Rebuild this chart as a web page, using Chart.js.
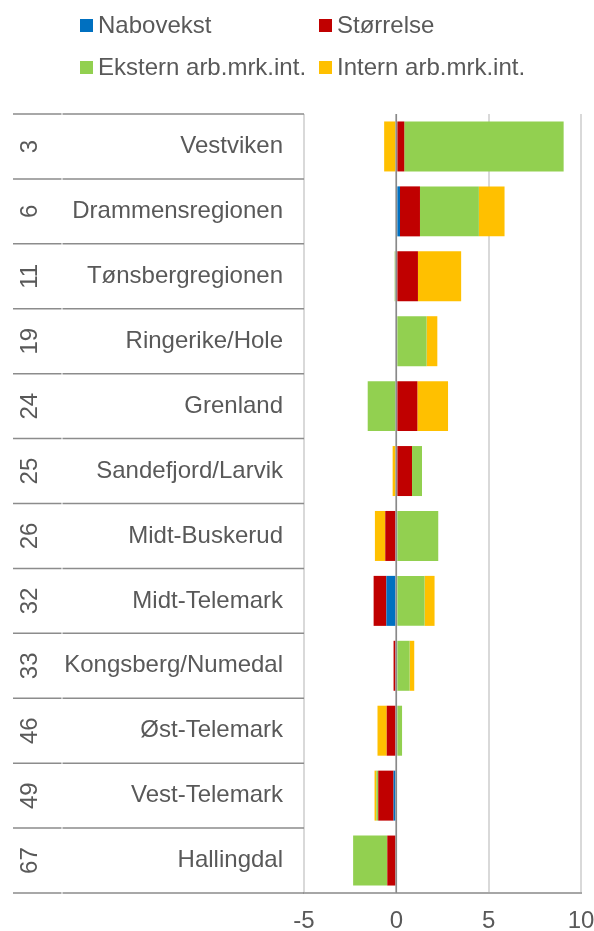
<!DOCTYPE html>
<html>
<head>
<meta charset="utf-8">
<title>Regioner</title>
<script src="https://cdn.jsdelivr.net/npm/chart.js@4/dist/chart.umd.min.js"></script>
<style>
    body { margin: 0; background: #ffffff; }
    #wrap { width: 594px; height: 931px; }
</style>
</head>
<body>
<div id="wrap"><canvas id="chart" width="594" height="931"></canvas></div>
<script>
const regions = ['Vestviken', 'Drammensregionen', 'Tønsbergregionen', 'Ringerike/Hole', 'Grenland', 'Sandefjord/Larvik',
    'Midt-Buskerud', 'Midt-Telemark', 'Kongsberg/Numedal', 'Øst-Telemark', 'Vest-Telemark', 'Hallingdal'];
const ranks = ['3', '6', '11', '19', '24', '25', '26', '32', '33', '46', '49', '67'];

const nabovekst = [0, 0.2, 0, 0, 0, 0, 0, -0.54, 0, 0, -0.15, 0];
const storrelse = [0.43, 1.08, 1.17, 0, 1.14, 0.85, -0.6, -0.69, -0.15, -0.52, -0.83, -0.49];
const ekstern = [8.63, 3.19, -0.09, 1.64, -1.55, 0.54, 2.27, 1.53, 0.72, 0.31, -0.1, -1.85];
const intern = [-0.66, 1.39, 2.34, 0.58, 1.66, -0.2, -0.56, 0.54, 0.25, -0.5, -0.1, 0];

const xTicks = [-5, 0, 5, 10];

const seriesNames = ['Nabovekst', 'Størrelse', 'Ekstern arb.mrk.int.', 'Intern arb.mrk.int.'];
const seriesColors = ['#0070c0', '#c00000', '#92d050', '#ffc000'];

const FONT = "'Liberation Sans', Arial, sans-serif";
const TEXT = '#595959';

Chart.defaults.font.family = FONT;
Chart.defaults.font.size = 24;
Chart.defaults.color = TEXT;

// legend + the two-level category table on the left
const sidePlugin = {
    id: 'side',
    afterDatasetsDraw(chart) {
        const ctx = chart.ctx;
        const area = chart.chartArea;
        const x = chart.scales.x;
        const y = chart.scales.y;

        // zero axis line on top of the bars
        const x0 = x.getPixelForValue(0);
        ctx.save();
        ctx.strokeStyle = '#898989';
        ctx.lineWidth = 1.5;
        ctx.beginPath();
        ctx.moveTo(x0, area.top);
        ctx.lineTo(x0, area.bottom);
        ctx.stroke();

        // row lines
        const rowH = (area.bottom - area.top) / regions.length;
        ctx.strokeStyle = '#8c8c8c';
        ctx.lineWidth = 1.5;
        for (let i = 0; i <= regions.length; i++) {
            const yy = area.top + i * rowH;
            ctx.beginPath();
            ctx.moveTo(13, yy);
            ctx.lineTo(61.5, yy);
            ctx.moveTo(62.5, yy);
            ctx.lineTo(area.left, yy);
            ctx.stroke();
        }

        ctx.fillStyle = TEXT;
        ctx.font = '24px ' + FONT;
        ctx.textBaseline = 'middle';
        regions.forEach((r, i) => {
            const yc = y.getPixelForValue(i);
            ctx.textAlign = 'right';
            ctx.fillText(r, 283, yc);

            ctx.save();
            ctx.translate(29, yc);
            ctx.rotate(-Math.PI / 2);
            ctx.textAlign = 'center';
            ctx.fillText(ranks[i], 0, 1);
            ctx.restore();
        });

        // legend, two columns
        const legendPos = [[80, 25.5], [319, 25.5], [80, 67.5], [319, 67.5]];
        ctx.textAlign = 'left';
        seriesNames.forEach((name, i) => {
            const p = legendPos[i];
            ctx.fillStyle = seriesColors[i];
            ctx.fillRect(p[0], p[1] - 6.5, 13, 13);
            ctx.fillStyle = TEXT;
            ctx.fillText(name, p[0] + 18, p[1] + 1);
        });
        ctx.restore();
    }
};

const seriesData = [nabovekst, storrelse, ekstern, intern];

new Chart(document.getElementById('chart'), {
    type: 'bar',
    data: {
        labels: regions,
        datasets: seriesNames.map((name, i) => ({
            label: name,
            data: seriesData[i],
            backgroundColor: seriesColors[i],
            borderWidth: 0,
            categoryPercentage: 0.77,
            barPercentage: 1
        }))
    },
    options: {
        indexAxis: 'y',
        responsive: false,
        animation: false,
        devicePixelRatio: 1,
        layout: {
            padding: { left: 304, right: 13, top: 114, bottom: 0 }
        },
        plugins: {
            legend: { display: false },
            tooltip: { enabled: false }
        },
        scales: {
            x: {
                stacked: true,
                min: -5,
                max: 10,
                afterBuildTicks: (scale) => {
                    scale.ticks = xTicks.map(v => ({ value: v }));
                },
                afterFit: (scale) => {
                    scale.height = 38;
                    scale.paddingLeft = 0;
                    scale.paddingRight = 0;
                },
                grid: {
                    color: '#d9d9d9',
                    lineWidth: 2,
                    drawTicks: false
                },
                border: {
                    color: '#a6a6a6',
                    width: 2
                },
                ticks: {
                    padding: 14,
                    color: TEXT,
                    maxRotation: 0,
                    font: { size: 24 }
                }
            },
            y: {
                stacked: true,
                display: false
            }
        }
    },
    plugins: [sidePlugin]
});
</script>
</body>
</html>
